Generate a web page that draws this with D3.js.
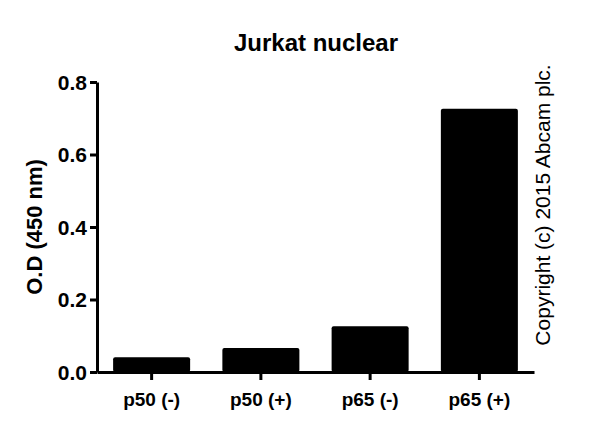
<!DOCTYPE html>
<html><head><meta charset="utf-8">
<script src="https://cdn.jsdelivr.net/npm/d3@7"></script>
<style>body{margin:0;background:#fff}text{font-family:Arial,"Liberation Sans",sans-serif}</style>
</head><body>
<script>
var categories = ["p50 (-)", "p50 (+)", "p65 (-)", "p65 (+)"];
var values = [0.041, 0.066, 0.126, 0.726];
var yTicks = [0.0, 0.2, 0.4, 0.6, 0.8];

var svg = d3.select("body").append("svg").attr("width", 600).attr("height", 432);

var x = d3.scaleBand().domain(categories).range([97, 534]).paddingInner(0.295).paddingOuter(0.1475);
var y = d3.scaleLinear().domain([0, 0.8]).range([372, 82]);

// bars
svg.selectAll("rect.bar").data(values).enter().append("rect")
  .attr("class", "bar")
  .attr("x", (d, i) => x(categories[i]))
  .attr("y", d => y(d))
  .attr("width", x.bandwidth())
  .attr("height", d => y(0) - y(d))
  .attr("rx", 2)
  .attr("fill", "#000");

// y axis
var yAxis = svg.append("g").attr("transform", "translate(97,0)")
  .call(d3.axisLeft(y).tickValues(yTicks).tickFormat(d3.format(".1f")).tickSize(7).tickSizeOuter(0));
yAxis.attr("font-size", null).attr("font-family", null);
yAxis.select(".domain").attr("stroke-width", 3);
yAxis.selectAll(".tick line").attr("stroke-width", 3);
yAxis.selectAll("text").style("font-size", "21px").style("font-weight", "bold").attr("fill", "#000").attr("dy", "0.35em");

// x axis
var xAxis = svg.append("g").attr("transform", "translate(0,372)")
  .call(d3.axisBottom(x).tickSize(8).tickSizeOuter(0));
xAxis.attr("font-size", null).attr("font-family", null);
xAxis.select(".domain").attr("stroke-width", 3);
xAxis.selectAll(".tick line").attr("stroke-width", 3);
xAxis.selectAll("text").style("font-size", "19px").style("font-weight", "bold").attr("fill", "#000").attr("dy", "1.2em");

// title
svg.append("text").attr("x", 316).attr("y", 51).attr("text-anchor", "middle")
  .style("font-size", "24px").style("font-weight", "bold").text("Jurkat nuclear");

// y label
svg.append("text").attr("transform", "translate(42,227) rotate(-90)").attr("text-anchor", "middle")
  .style("font-size", "22px").style("font-weight", "bold").text("O.D (450 nm)");

// copyright
svg.append("text").attr("transform", "translate(550,205) rotate(-90)").attr("text-anchor", "middle")
  .style("font-size", "21px").text("Copyright (c) 2015 Abcam plc.");
</script>
</body></html>
